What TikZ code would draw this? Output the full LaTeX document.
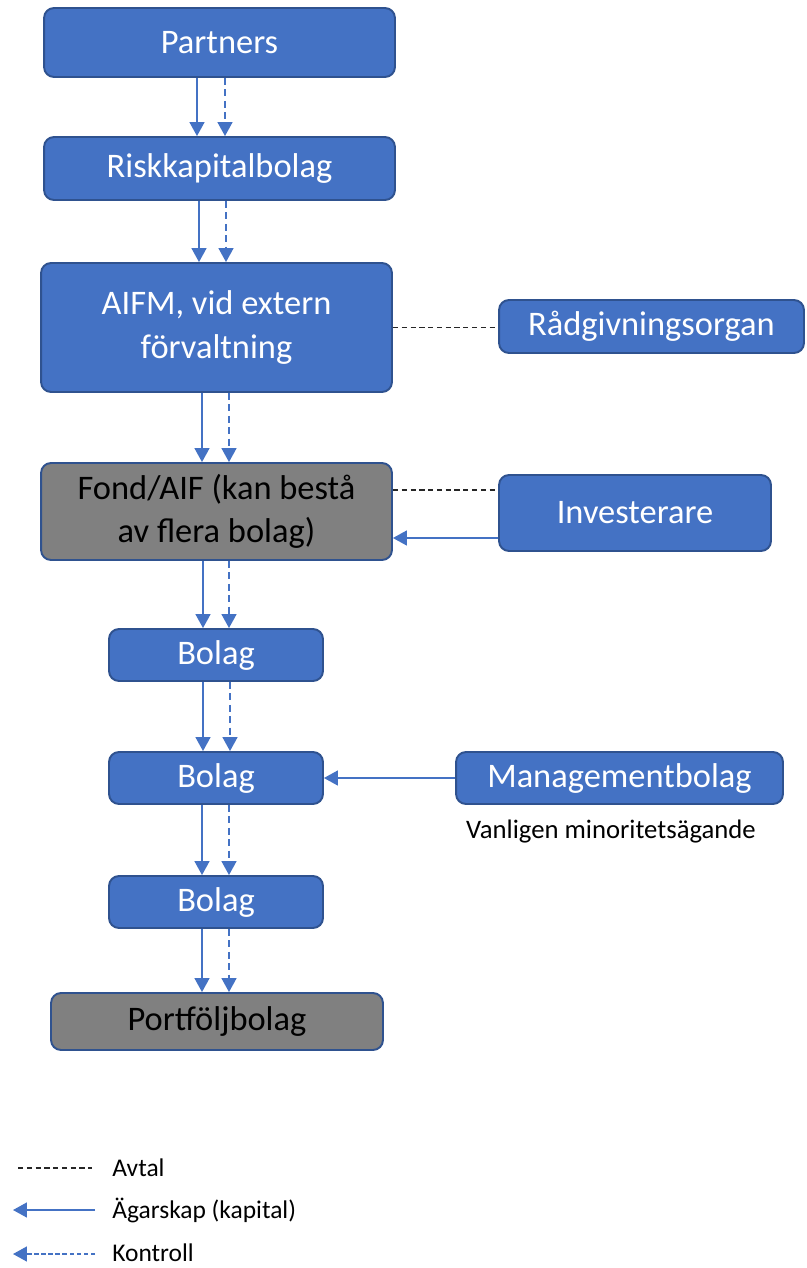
\documentclass[tikz,border=0pt]{standalone}
\usepackage{fontspec}
\setmainfont{Carlito}
\usetikzlibrary{arrows.meta}

\definecolor{boxblue}{HTML}{4472C4}
\definecolor{boxedge}{HTML}{2F528F}
\definecolor{boxgrey}{HTML}{808080}

\tikzset{
  box/.style={draw=boxedge,line width=1.1pt,fill=boxblue,rounded corners=0.2cm,
    text=white,inner sep=0pt,align=center,font=\fontsize{19.6}{24.5}\selectfont},
  greybox/.style={box,fill=boxgrey,text=black},
  owner/.style={draw=boxblue,line width=0.9pt,-{Triangle[width=0.3cm,length=0.28cm]}},
  control/.style={owner,dash pattern=on 4pt off 2.5pt},
  avtal/.style={draw=black!85,line width=0.7pt,dash pattern=on 3pt off 2pt},
  small/.style={font=\fontsize{14.5}{17}\selectfont,inner sep=0pt}
}

\begin{document}
\begin{tikzpicture}[x=0.02cm,y=-0.02cm]
      \useasboundingbox (0,0) rectangle (806,1268);

      \node[box,minimum width=7.02cm,minimum height=1.38cm] (partners) at (219.5,42.5) {Partners};
      \node[box,minimum width=7.02cm,minimum height=1.26cm] (risk) at (219.5,168.5) {Riskkapitalbolag};
      \node[box,minimum width=7.02cm,minimum height=2.58cm] (aifm) at (216.5,327.5) {AIFM, vid extern\\förvaltning};
      \node[box,minimum width=6.1cm,minimum height=1.06cm] (rad) at (651.5,326.5) {Rådgivningsorgan};
      \node[greybox,minimum width=7.02cm,minimum height=1.94cm] (fond) at (216.5,511.5) {Fond/AIF (kan bestå\\av flera bolag)};
      \node[box,minimum width=5.44cm,minimum height=1.52cm] (inv) at (635,513) {Investerare};
      \node[box,minimum width=4.28cm,minimum height=1.04cm] (bolagA) at (216,655) {Bolag};
      \node[box,minimum width=4.28cm,minimum height=1.04cm] (bolagB) at (216,778) {Bolag};
      \node[box,minimum width=6.54cm,minimum height=1.04cm] (mgmt) at (619.5,778) {Managementbolag};
      \node[small,font=\fontsize{15.2}{18}\selectfont] (minor) at (611,832) {Vanligen minoritetsägande};
      \node[box,minimum width=4.28cm,minimum height=1.04cm] (bolagC) at (216,902) {Bolag};
      \node[greybox,minimum width=6.64cm,minimum height=1.14cm] (portf) at (217,1021.5) {Portföljbolag};

      % owner / control columns
      \coordinate (s1) at (197,0);   \coordinate (d1) at (225,0);
      \coordinate (s2) at (199,0);   \coordinate (d2) at (226,0);
      \coordinate (s3) at (202,0);   \coordinate (d3) at (229,0);
      \coordinate (s4) at (203,0);   \coordinate (d4) at (230,0);

      \draw[owner] (partners.south -| s1) -- (risk.north -| s1);
      \draw[control] (partners.south -| d1) -- (risk.north -| d1);
      \draw[owner] (risk.south -| s2) -- (aifm.north -| s2);
      \draw[control] (risk.south -| d2) -- (aifm.north -| d2);
      \draw[owner] (aifm.south -| s3) -- (fond.north -| s3);
      \draw[control] (aifm.south -| d3) -- (fond.north -| d3);
      \draw[owner] (fond.south -| s4) -- (bolagA.north -| s4);
      \draw[control] (fond.south -| d3) -- (bolagA.north -| d3);
      \draw[owner] (bolagA.south -| s4) -- (bolagB.north -| s4);
      \draw[control] (bolagA.south -| d4) -- (bolagB.north -| d4);
      \draw[owner] (bolagB.south -| s3) -- (bolagC.north -| s3);
      \draw[control] (bolagB.south -| d3) -- (bolagC.north -| d3);
      \draw[owner] (bolagC.south -| s3) -- (portf.north -| s3);
      \draw[control] (bolagC.south -| d3) -- (portf.north -| d3);

      % side links
      \draw[avtal] (aifm.east) -- (aifm.east -| rad.west);
      \draw[avtal] ([yshift=0.43cm]fond.east) -- ([yshift=0.43cm]fond.east -| inv.west);
      \draw[owner] ([yshift=-0.53cm]fond.east -| inv.west) -- ([yshift=-0.53cm]fond.east);
      \draw[owner] (mgmt.west) -- (bolagB.east);

      % legend
      \coordinate (la1) at (18,1168);  \coordinate (la2) at (92,1168);
      \coordinate (lb1) at (95,1210);  \coordinate (lb2) at (13,1210);
      \coordinate (lc1) at (95,1254);  \coordinate (lc2) at (13,1254);
      \draw[avtal] (la1) -- (la2);
      \draw[owner] (lb1) -- (lb2);
      \draw[control,dash pattern=on 2.5pt off 1.5pt] (lc1) -- (lc2);
      \node[small,anchor=west] (avtal) at (112,1168) {Avtal};
      \node[small,anchor=west] (agar) at (112,1210) {Ägarskap (kapital)};
      \node[small,anchor=west] (kontroll) at (112,1253) {Kontroll};
    \end{tikzpicture}
\end{document}
